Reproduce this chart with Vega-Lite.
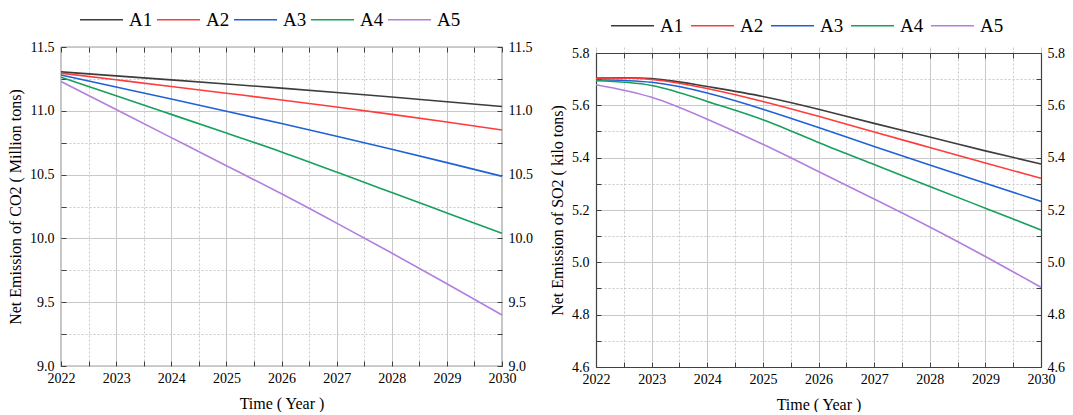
{
  "$schema": "https://vega.github.io/schema/vega-lite/v6.json",
  "background": "white",
  "padding": {"left": 6, "top": -4, "right": 0, "bottom": 0},
  "config": {
    "font": "Liberation Serif",
    "view": {"stroke": "#404040", "strokeWidth": 1.2},
    "axis": {
      "labelFont": "Liberation Serif", "titleFont": "Liberation Serif",
      "labelFontSize": 14, "titleFontSize": 16, "labelColor": "#000", "titleColor": "#000",
      "titleFontWeight": "normal", "domain": false, "domainColor": "#404040", "domainWidth": 1.2,
      "tickColor": "#404040", "tickWidth": 1,
      "gridColor": "#c8c8c8", "gridWidth": 1, "labelFlush": false, "labelOverlap": false
    },
    "legend": {
      "orient": "none", "direction": "horizontal", "symbolType": "stroke", "symbolSize": 1850,
      "symbolStrokeWidth": 1.5, "labelFont": "Liberation Serif", "labelFontSize": 19, "labelColor": "#000",
      "labelOffset": 5, "columnPadding": 0
    },
    "line": {"strokeWidth": 1.6}
  },
  "datasets": {
    "co2": [
      {"scenario": "A1", "year": 2022, "value": 11.305}, {"scenario": "A1", "year": 2023, "value": 11.274}, {"scenario": "A1", "year": 2024, "value": 11.242}, {"scenario": "A1", "year": 2025, "value": 11.210}, {"scenario": "A1", "year": 2026, "value": 11.178}, {"scenario": "A1", "year": 2027, "value": 11.144}, {"scenario": "A1", "year": 2028, "value": 11.108}, {"scenario": "A1", "year": 2029, "value": 11.071}, {"scenario": "A1", "year": 2030, "value": 11.034},
      {"scenario": "A2", "year": 2022, "value": 11.295}, {"scenario": "A2", "year": 2023, "value": 11.243}, {"scenario": "A2", "year": 2024, "value": 11.191}, {"scenario": "A2", "year": 2025, "value": 11.138}, {"scenario": "A2", "year": 2026, "value": 11.085}, {"scenario": "A2", "year": 2027, "value": 11.030}, {"scenario": "A2", "year": 2028, "value": 10.972}, {"scenario": "A2", "year": 2029, "value": 10.912}, {"scenario": "A2", "year": 2030, "value": 10.850},
      {"scenario": "A3", "year": 2022, "value": 11.280}, {"scenario": "A3", "year": 2023, "value": 11.186}, {"scenario": "A3", "year": 2024, "value": 11.092}, {"scenario": "A3", "year": 2025, "value": 10.997}, {"scenario": "A3", "year": 2026, "value": 10.900}, {"scenario": "A3", "year": 2027, "value": 10.800}, {"scenario": "A3", "year": 2028, "value": 10.698}, {"scenario": "A3", "year": 2029, "value": 10.594}, {"scenario": "A3", "year": 2030, "value": 10.487},
      {"scenario": "A4", "year": 2022, "value": 11.263}, {"scenario": "A4", "year": 2023, "value": 11.118}, {"scenario": "A4", "year": 2024, "value": 10.972}, {"scenario": "A4", "year": 2025, "value": 10.826}, {"scenario": "A4", "year": 2026, "value": 10.678}, {"scenario": "A4", "year": 2027, "value": 10.520}, {"scenario": "A4", "year": 2028, "value": 10.360}, {"scenario": "A4", "year": 2029, "value": 10.200}, {"scenario": "A4", "year": 2030, "value": 10.040},
      {"scenario": "A5", "year": 2022, "value": 11.230}, {"scenario": "A5", "year": 2023, "value": 11.010}, {"scenario": "A5", "year": 2024, "value": 10.790}, {"scenario": "A5", "year": 2025, "value": 10.570}, {"scenario": "A5", "year": 2026, "value": 10.350}, {"scenario": "A5", "year": 2027, "value": 10.120}, {"scenario": "A5", "year": 2028, "value": 9.885}, {"scenario": "A5", "year": 2029, "value": 9.645}, {"scenario": "A5", "year": 2030, "value": 9.400}
    ],
    "so2": [
      {"scenario": "A1", "year": 2022, "value": 5.704}, {"scenario": "A1", "year": 2023, "value": 5.702}, {"scenario": "A1", "year": 2024, "value": 5.672}, {"scenario": "A1", "year": 2025, "value": 5.634}, {"scenario": "A1", "year": 2026, "value": 5.585}, {"scenario": "A1", "year": 2027, "value": 5.531}, {"scenario": "A1", "year": 2028, "value": 5.479}, {"scenario": "A1", "year": 2029, "value": 5.426}, {"scenario": "A1", "year": 2030, "value": 5.376},
      {"scenario": "A2", "year": 2022, "value": 5.704}, {"scenario": "A2", "year": 2023, "value": 5.699}, {"scenario": "A2", "year": 2024, "value": 5.664}, {"scenario": "A2", "year": 2025, "value": 5.615}, {"scenario": "A2", "year": 2026, "value": 5.558}, {"scenario": "A2", "year": 2027, "value": 5.498}, {"scenario": "A2", "year": 2028, "value": 5.439}, {"scenario": "A2", "year": 2029, "value": 5.380}, {"scenario": "A2", "year": 2030, "value": 5.321},
      {"scenario": "A3", "year": 2022, "value": 5.698}, {"scenario": "A3", "year": 2023, "value": 5.688}, {"scenario": "A3", "year": 2024, "value": 5.647}, {"scenario": "A3", "year": 2025, "value": 5.585}, {"scenario": "A3", "year": 2026, "value": 5.515}, {"scenario": "A3", "year": 2027, "value": 5.443}, {"scenario": "A3", "year": 2028, "value": 5.372}, {"scenario": "A3", "year": 2029, "value": 5.302}, {"scenario": "A3", "year": 2030, "value": 5.233},
      {"scenario": "A4", "year": 2022, "value": 5.694}, {"scenario": "A4", "year": 2023, "value": 5.676}, {"scenario": "A4", "year": 2024, "value": 5.615}, {"scenario": "A4", "year": 2025, "value": 5.545}, {"scenario": "A4", "year": 2026, "value": 5.458}, {"scenario": "A4", "year": 2027, "value": 5.374}, {"scenario": "A4", "year": 2028, "value": 5.290}, {"scenario": "A4", "year": 2029, "value": 5.207}, {"scenario": "A4", "year": 2030, "value": 5.124},
      {"scenario": "A5", "year": 2022, "value": 5.679}, {"scenario": "A5", "year": 2023, "value": 5.631}, {"scenario": "A5", "year": 2024, "value": 5.547}, {"scenario": "A5", "year": 2025, "value": 5.451}, {"scenario": "A5", "year": 2026, "value": 5.347}, {"scenario": "A5", "year": 2027, "value": 5.242}, {"scenario": "A5", "year": 2028, "value": 5.135}, {"scenario": "A5", "year": 2029, "value": 5.022}, {"scenario": "A5", "year": 2030, "value": 4.905}
    ]
  },
  "resolve": {"legend": {"color": "independent"}},
  "spacing": 15,
  "hconcat": [
    {
      "width": 441, "height": 319,
      "data": {"name": "co2"},
      "resolve": {"axis": {"x": "independent", "y": "independent"}},
      "layer": [
        {
          "mark": {"type": "line", "interpolate": "natural"},
          "encoding": {
            "x": {"field": "year", "type": "quantitative", "scale": {"domain": [2022, 2030], "nice": false, "zero": false},
              "axis": {"orient": "bottom", "title": "Time ( Year )", "values": [2022, 2022.5, 2023, 2023.5, 2024, 2024.5, 2025, 2025.5, 2026, 2026.5, 2027, 2027.5, 2028, 2028.5, 2029, 2029.5, 2030],
                "labelExpr": "datum.value % 1 == 0 ? format(datum.value, 'd') : ''",
                "tickSize": -5, "labelPadding": 10, "titlePadding": 10, "grid": true,
                "gridDash": {"condition": {"test": "datum.value % 1 != 0", "value": [2, 2]}, "value": []}}},
            "y": {"field": "value", "type": "quantitative", "scale": {"domain": [9, 11.5], "nice": false, "zero": false},
              "axis": {"orient": "left", "title": "Net Emission of CO2 ( Million tons)", "values": [9, 9.25, 9.5, 9.75, 10, 10.25, 10.5, 10.75, 11, 11.25, 11.5],
                "labelExpr": "(datum.value * 2) % 1 == 0 ? format(datum.value, '.1f') : ''",
                "tickSize": -5, "labelPadding": 12, "titlePadding": 6, "grid": true,
                "gridDash": {"condition": {"test": "(datum.value * 2) % 1 != 0", "value": [2, 2]}, "value": []}}},
            "color": {"field": "scenario", "type": "nominal",
              "scale": {"domain": ["A1", "A2", "A3", "A4", "A5"], "range": ["#3c3c3c", "#ff3b3b", "#1f62d6", "#16a05a", "#b27fe0"]},
              "legend": {"title": null, "legendX": 18, "legendY": -50}}
          }
        },
        {
          "mark": {"type": "line", "opacity": 0},
          "encoding": {
            "x": {"field": "year", "type": "quantitative",
              "axis": {"orient": "top", "title": null, "labels": false, "grid": false, "tickSize": -5, "values": [2022, 2022.5, 2023, 2023.5, 2024, 2024.5, 2025, 2025.5, 2026, 2026.5, 2027, 2027.5, 2028, 2028.5, 2029, 2029.5, 2030]}},
            "y": {"field": "value", "type": "quantitative",
              "axis": {"orient": "right", "title": null, "grid": false, "tickSize": -5, "labelPadding": 11, "values": [9, 9.25, 9.5, 9.75, 10, 10.25, 10.5, 10.75, 11, 11.25, 11.5],
                "labelExpr": "(datum.value * 2) % 1 == 0 ? format(datum.value, '.1f') : ''"}},
            "detail": {"field": "scenario"}
          }
        }
      ]
    },
    {
      "width": 445, "height": 320,
      "view": {"stroke": null},
      "data": {"name": "so2"},
      "resolve": {"axis": {"x": "independent", "y": "independent"}},
      "layer": [
        {
          "mark": {"type": "line", "interpolate": "natural"},
          "encoding": {
            "x": {"field": "year", "type": "quantitative", "scale": {"domain": [2022, 2030], "nice": false, "zero": false},
              "axis": {"orient": "bottom", "title": "Time ( Year )", "domain": true, "values": [2022, 2022.5, 2023, 2023.5, 2024, 2024.5, 2025, 2025.5, 2026, 2026.5, 2027, 2027.5, 2028, 2028.5, 2029, 2029.5, 2030],
                "labelExpr": "datum.value % 1 == 0 ? format(datum.value, 'd') : ''",
                "tickSize": -5, "labelPadding": 10, "titlePadding": 10, "grid": true,
                "gridDash": {"condition": {"test": "datum.value % 1 != 0", "value": [2, 2]}, "value": []}}},
            "y": {"field": "value", "type": "quantitative", "scale": {"domain": [4.6, 5.8], "nice": false, "zero": false, "range": [320, 6]},
              "axis": {"orient": "left", "title": "Net Emission of SO2 ( kilo tons)", "domain": true, "values": [4.6, 4.7, 4.8, 4.9, 5.0, 5.1, 5.2, 5.3, 5.4, 5.5, 5.6, 5.7, 5.8],
                "labelExpr": "round(datum.value * 10) % 2 == 0 ? format(datum.value, '.1f') : ''",
                "tickSize": -5, "labelPadding": 12, "titlePadding": 6, "grid": true,
                "gridDash": {"condition": {"test": "round(datum.value * 10) % 2 != 0", "value": [2, 2]}, "value": []}}},
            "color": {"field": "scenario", "type": "nominal",
              "scale": {"domain": ["A1", "A2", "A3", "A4", "A5"], "range": ["#3c3c3c", "#ff3b3b", "#1f62d6", "#16a05a", "#b27fe0"]},
              "legend": {"title": null, "legendX": 14, "legendY": -44, "columnPadding": 3}}
          }
        },
        {
          "mark": {"type": "line", "opacity": 0},
          "encoding": {
            "x": {"field": "year", "type": "quantitative",
              "axis": {"orient": "top", "title": null, "labels": false, "grid": false, "domain": true, "offset": -6, "tickSize": -5, "values": [2022, 2022.5, 2023, 2023.5, 2024, 2024.5, 2025, 2025.5, 2026, 2026.5, 2027, 2027.5, 2028, 2028.5, 2029, 2029.5, 2030]}},
            "y": {"field": "value", "type": "quantitative",
              "axis": {"orient": "right", "title": null, "grid": false, "domain": true, "tickSize": -5, "labelPadding": 11, "values": [4.6, 4.7, 4.8, 4.9, 5.0, 5.1, 5.2, 5.3, 5.4, 5.5, 5.6, 5.7, 5.8],
                "labelExpr": "round(datum.value * 10) % 2 == 0 ? format(datum.value, '.1f') : ''"}},
            "detail": {"field": "scenario"}
          }
        }
      ]
    }
  ]
}
